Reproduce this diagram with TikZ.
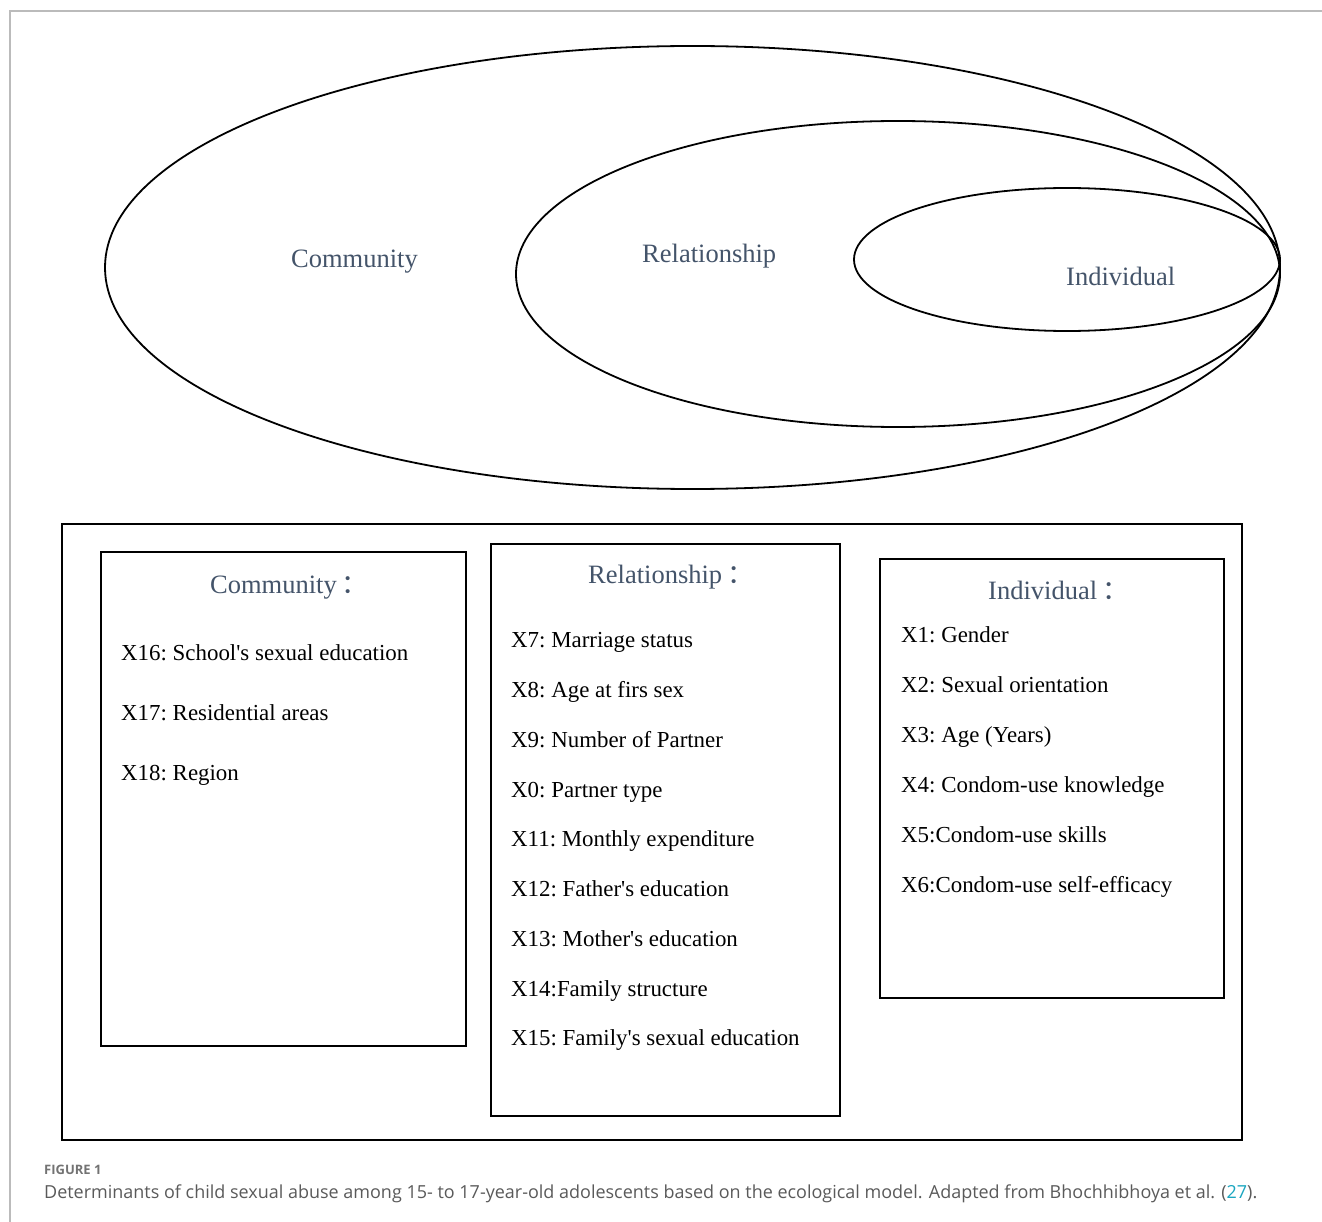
\documentclass[tikz,border=0pt]{standalone}
\usepackage{fontspec}
\setmainfont{Liberation Serif}
\newfontfamily\capfont{Open Sans}
\newfontfamily\cjk{Noto Sans CJK SC}
\usetikzlibrary{shapes.geometric}
\definecolor{slate}{HTML}{44546A}
\definecolor{framegray}{HTML}{BBBBBB}
\definecolor{capgray}{HTML}{5A5A5A}
\definecolor{reflink}{HTML}{1AA6C0}
\tikzset{
  ring/.style={draw=black, line width=1.8pt, ellipse, inner sep=0pt},
  panel/.style={draw=black, line width=1.8pt, inner sep=0pt},
  ringlabel/.style={text=slate, font=\fontsize{26.5}{30}\selectfont, anchor=base west, inner sep=0pt},
  head/.style={text=slate, font=\fontsize{26.5}{30}\selectfont, anchor=base west, inner sep=0pt},
  item/.style={text=black, font=\fontsize{22.9}{26}\selectfont\frenchspacing, anchor=base west, inner sep=0pt},
}
\newcommand{\fcolon}{\hspace{5pt}{\cjk ：}}
\newcommand{\aq}{\textquotesingle}
\begin{document}
\begin{tikzpicture}[x=1pt,y=-1pt]
\useasboundingbox (0,0) rectangle (1322,1222);
\fill[white] (0,0) rectangle (1322,1222);
% page frame
\coordinate (f1) at (1322,11);
\coordinate (f2) at (10,11);
\coordinate (f3) at (10,1222);
\draw[framegray, line width=1.5pt] (f1) -- (f2) -- (f3);
% ellipses
\node[ring, minimum width=1175, minimum height=443] (ecom) at (692.5,267.5) {};
\node[ring, minimum width=764, minimum height=306] (erel) at (898,274) {};
\node[ring, minimum width=426, minimum height=143] (eind) at (1067,259.5) {};
\node[ringlabel] (lcom) at (291,268) {Community};
\node[ringlabel] (lrel) at (642,263) {Relationship};
\node[ringlabel] (lind) at (1066,286) {Individual};
% panels
\node[panel, minimum width=1180, minimum height=616] (outer) at (652,832) {};
\node[panel, minimum width=365, minimum height=494] (pcom) at (283.5,799) {};
\node[panel, minimum width=349, minimum height=572] (prel) at (665.5,830) {};
\node[panel, minimum width=344, minimum height=439] (pind) at (1052,778.5) {};
% community
\node[head] (hcom) at (210,593) {Community\fcolon};
\node[item] (c1) at (121,660) {X16: School\aq s sexual education};
\node[item] (c2) at (121,720) {X17: Residential areas};
\node[item] (c3) at (121,780) {X18: Region};
% relationship
\node[head] (hrel) at (588,583) {Relationship\fcolon};
\node[item] (r1) at (511,647) {X7: Marriage status};
\node[item] (r2) at (511,697) {X8: Age at firs sex};
\node[item] (r3) at (511,747) {X9: Number of Partner};
\node[item] (r4) at (511,797) {X0: Partner type};
\node[item] (r5) at (511,846) {X11: Monthly expenditure};
\node[item] (r6) at (511,896) {X12: Father\aq s education};
\node[item] (r7) at (511,946) {X13: Mother\aq s education};
\node[item] (r8) at (511,996) {X14:Family structure};
\node[item] (r9) at (511,1045) {X15: Family\aq s sexual education};
% individual
\node[head] (hind) at (988,599) {Individual\fcolon};
\node[item] (i1) at (901,642) {X1: Gender};
\node[item] (i2) at (901,692) {X2: Sexual orientation};
\node[item] (i3) at (901,742) {X3: Age (Years)};
\node[item] (i4) at (901,792) {X4: Condom-use knowledge};
\node[item] (i5) at (901,842) {X5:Condom-use skills};
\node[item] (i6) at (901,892) {X6:Condom-use self-efficacy};
% caption
\node[anchor=base west, inner sep=0pt, text=capgray!85!white, font=\capfont\bfseries\fontsize{13}{15}\selectfont] (fig) at (44,1174) {FIGURE 1};
\node[anchor=base west, inner sep=0pt, text=capgray, font=\capfont\fontsize{16.5}{19}\selectfont] (cap) at (44,1198)
  {\resizebox{1213pt}{!}{Determinants of child sexual abuse among 15- to 17-year-old adolescents based on the ecological model. Adapted from Bhochhibhoya et al. ({\color{reflink}27}).}};
\end{tikzpicture}
\end{document}
